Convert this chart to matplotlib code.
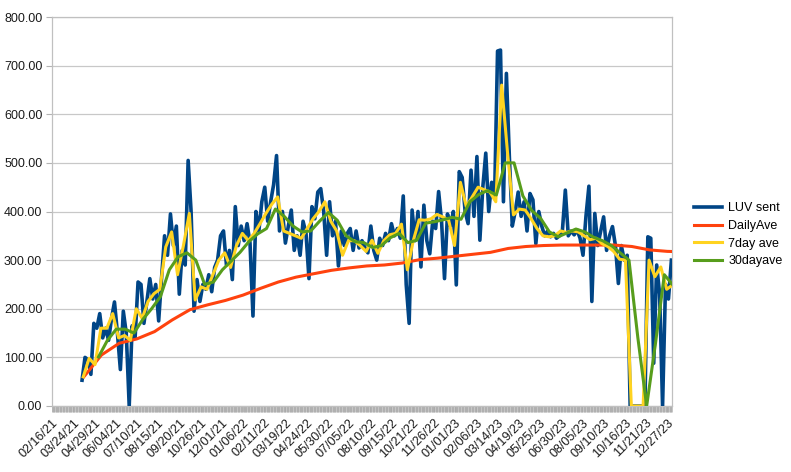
import matplotlib
matplotlib.use("Agg")
import matplotlib.pyplot as plt
import matplotlib.dates as mdates
import pandas as pd

plt.rcParams['font.family'] = ['Liberation Sans', 'DejaVu Sans']

# LUV sent, every 5 days from 04/08/21
luv = [53, 100, 95, 65, 170, 160, 190, 140, 160, 135,
       180, 214, 150, 75, 195, 150, 0, 165, 140, 255,
       250, 170, 215, 262, 220, 250, 175, 265, 350, 310,
       395, 330, 370, 230, 320, 290, 505, 400, 195, 260,
       215, 250, 240, 270, 235, 285, 300, 350, 360, 290,
       320, 260, 410, 330, 370, 340, 375, 335, 185, 400,
       360, 420, 450, 380, 420, 455, 515, 360, 400, 335,
       370, 403, 320, 350, 310, 380, 355, 262, 410, 385,
       440, 447, 400, 310, 420, 350, 380, 288, 360, 330,
       355, 365, 320, 360, 325, 340,
       325, 315, 370, 320, 300, 345, 330, 355, 340, 375,
       350, 365, 345, 432, 250, 170, 403, 340, 400, 286,
       413, 340, 313, 380, 365, 441, 380, 262, 395, 370,
       400, 249, 482, 470, 400, 375, 485, 390, 513, 341,
       450, 520, 400, 460, 430, 730, 732, 420, 684, 513,
       370, 400, 440, 390, 420, 360, 437, 424, 334, 400,
       370, 350, 360, 348, 355, 345, 350, 360, 444, 350,
       360, 352, 362, 345, 310, 390, 452, 215, 396, 330,
       360, 389, 320, 350, 369, 330, 252, 330, 300, 310,
       0, 0, 0, 0, 0, 0, 348, 345, 88, 290,
       230, 0, 250, 220, 300]
luv_dates = pd.date_range('2021-04-08', periods=len(luv), freq='5D')

# DailyAve, every 30 days
daily = [60, 105, 129, 138, 153, 177, 198, 208, 217, 228,
         242, 255, 265, 272, 279, 284, 288, 290, 294, 301,
         304, 308, 312, 316, 324, 328, 330, 331, 331, 331,
         331, 328, 321, 318, 317]
daily_dates = pd.date_range('2021-04-11', periods=len(daily), freq='30D')

# 7day ave, every 10 days
ave7 = [60, 98, 85, 160, 160, 190, 140, 145, 135, 200,
        180, 215, 231, 240, 327, 358, 270, 330, 396, 218,
        245, 240, 270, 300, 315, 285, 330, 355, 340, 355,
        375, 396, 415, 430, 360, 355, 350, 345, 365, 385,
        400, 420, 380, 360, 310, 340, 340, 330,
        318, 341, 314, 340, 352, 355, 374, 280, 340, 383,
        382, 385, 394, 389, 382, 330, 460, 410, 430, 450,
        445, 440, 420, 660, 520, 393, 405, 403, 385, 365,
        350, 348, 350, 360, 357, 360, 358, 350, 342, 345,
        334, 328, 318, 302, 300, 0, 0, 0, 300, 266,
        286, 240, 249]
ave7_dates = pd.date_range('2021-04-10', periods=len(ave7), freq='10D')

# 30dayave, every 15 days
ave30 = [101, 135, 158, 158, 150, 178, 200, 225, 280, 307,
         315, 300, 250, 255, 280, 298, 316, 338, 354, 365,
         405, 390, 370, 358, 360, 380, 398, 382, 350, 338,
         336, 326, 330, 346, 355, 336, 341, 376, 379, 383,
         388, 384, 420, 435, 443, 434, 500, 500, 432, 402,
         386, 358, 348, 356, 364, 358, 347, 340, 330, 315,
         300, 141, 0, 129, 270, 248]
ave30_dates = pd.date_range('2021-05-06', periods=len(ave30), freq='15D')

tick_dates = pd.date_range('2021-02-16', '2023-12-27', freq='36D')

fig = plt.figure(figsize=(7.91, 4.72), dpi=100)
ax = fig.add_axes([52 / 791, 66 / 472, 620 / 791, 389 / 472])

ax.plot(luv_dates, luv, color='#004586', lw=2.6, label='LUV sent', zorder=3)
ax.plot(daily_dates, daily, color='#ff420e', lw=2.2, label='DailyAve', zorder=4)
ax.plot(ave7_dates, ave7, color='#ffd320', lw=2.2, label='7day ave', zorder=5)
ax.plot(ave30_dates, ave30, color='#579d1c', lw=2.2, label='30dayave', zorder=6)

ax.set_ylim(0, 800)
ax.set_yticks(range(0, 801, 100))
ax.set_yticklabels(['%.2f' % v for v in range(0, 801, 100)])
ax.set_xlim(pd.Timestamp('2021-02-16'), pd.Timestamp('2021-02-16') + pd.Timedelta(days=1052))
ax.set_xticks(tick_dates)
ax.set_xticklabels([d.strftime('%m/%d/%y') for d in tick_dates],
                   rotation=45, ha='right', va='top', rotation_mode='anchor')
ax.xaxis.set_minor_locator(mdates.DayLocator())

ax.grid(axis='y', color='#c8c8c8', lw=0.9)
ax.set_axisbelow(True)
for s in ax.spines.values():
    s.set_color('#c0c0c0')
    s.set_linewidth(0.9)

ax.tick_params(axis='y', length=4, color='#b3b3b3', labelsize=9, labelcolor='#1a1a1a', pad=3)
ax.tick_params(axis='x', which='major', length=4.3, width=0.6, color='#a8a8a8',
               labelsize=9, labelcolor='#1a1a1a', pad=3.5)
ax.tick_params(axis='x', which='minor', length=4.3, width=0.45, color='#a4a4a4')

ax.legend(loc='center left', bbox_to_anchor=(1.035, 0.44), frameon=False, fontsize=9,
          handlelength=2.3, handletextpad=0.45, labelspacing=0.45,
          borderaxespad=0, borderpad=0)

fig.savefig('out.png', dpi=100)
